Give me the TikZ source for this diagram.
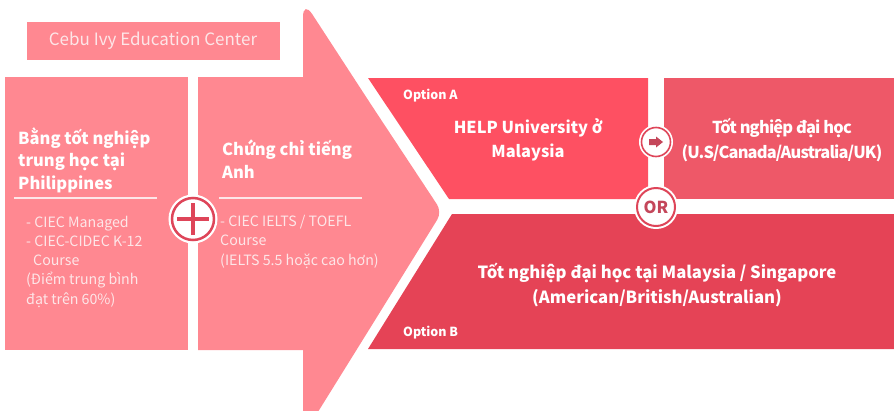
\documentclass[tikz,border=0pt]{standalone}
\usepackage{fontspec}
\setmainfont{Noto Sans CJK KR}
\usetikzlibrary{positioning}

\definecolor{pinklight}{HTML}{FF8891}
\definecolor{optared}{HTML}{FE5062}
\definecolor{gradred}{HTML}{EE5868}
\definecolor{optbred}{HTML}{E54356}
\definecolor{ringred}{HTML}{DE4559}
\definecolor{darkred}{HTML}{C4465A}
\definecolor{softwhite}{HTML}{FDE6E8}

\tikzset{
  headtext/.style={anchor=base west,align=left,text=white,inner sep=0pt,
    font=\fontsize{16.5}{22.5}\selectfont\bfseries},
  bodytext/.style={anchor=base west,align=left,text=softwhite,inner sep=0pt,
    font=\fontsize{14.2}{19.2}\selectfont},
  boxtext/.style={align=center,text=white,inner sep=0pt,
    font=\fontsize{#1}{24.5}\selectfont\bfseries},
  optlabel/.style={anchor=west,text=white,inner sep=0pt,
    font=\fontsize{12.5}{14}\selectfont\bfseries},
  ringnode/.style={circle,draw=ringred,fill=white,inner sep=0pt,
    preaction={draw=white,line width=#1}},
}

\begin{document}
\begin{tikzpicture}[x=1pt,y=-1pt]
\useasboundingbox (0,0) rectangle (894,410);
\fill[pinklight] (27,22) rectangle (280,60);
\node[text=softwhite,font=\fontsize{17}{20}\selectfont] (centername) at (153,41) {Cebu Ivy Education Center};
\fill[pinklight] (5,77) rectangle (188,350);
\fill[pinklight] (198,77) -- (303,77) -- (303,45) {[rounded corners=17] -- (303,0) -- (372,106)}
  {[rounded corners=9] -- (442,212) -- (372,325)} -- (303,436) -- (303,350) -- (198,350) -- cycle;
\fill[optared] (368,78) -- (648,78) -- (648,199) -- (449,199) -- cycle;
\fill[gradred] (664,78) rectangle (894,199);
\fill[optbred] (452,214) -- (894,214) -- (894,349) -- (368,349) -- cycle;
\node[headtext] (hsdegree) at (18,189) {Bằng tốt nghiệp\\trung học tại\\Philippines};
\draw[softwhite,line width=2pt] (14,198) -- (157,198);
\node[bodytext] (hscourses) at (26,304) {- CIEC Managed\\- CIEC-CIDEC K-12\\\hspace*{7pt}Course\\(Điểm trung bình\\đạt trên 60\%)};
\node[headtext] (engcert) at (222,178) {Chứng chỉ tiếng\\Anh};
\draw[softwhite,line width=2pt] (219,198) -- (362,198);
\node[bodytext] (engcourses) at (220,265) {- CIEC IELTS / TOEFL\\Course\\(IELTS 5.5 hoặc cao hơn)};
\node[optlabel] (optiona) at (403,96) {Option A};
\node[optlabel] (optionb) at (403,333) {Option B};
\node[boxtext=16.4] (helpuni) at (528,140) {HELP University ở\\Malaysia};
\node[boxtext=16.4,font=\fontsize{16.4}{24.5}\selectfont\bfseries\addfontfeature{LetterSpace=-5}] (westdeg) at (782,140) {Tốt nghiệp đại học\\(U.S/Canada/Australia/UK)};
\node[boxtext=16.7] (asiadeg) at (657,285) {Tốt nghiệp đại học tại Malaysia / Singapore\\(American/British/Australian)};
\node[ringnode=7pt,line width=2.5pt,minimum size=42] (plusc) at (193,219) {};
\draw[ringred,line width=4pt] ([yshift=-16]plusc.center) -- ([yshift=16]plusc.center);
\draw[ringred,line width=4pt] ([xshift=-16]plusc.center) -- ([xshift=16]plusc.center);
\node[ringnode=5pt,line width=1.6pt,minimum size=29] (nextc) at (656,142) {};
\fill[darkred,shift={(nextc.center)}] (-7,-3) -- (0,-3) -- (0,-5.5) -- (7,0) -- (0,5.5) -- (0,3) -- (-7,3) -- cycle;
\node[ringnode=6pt,line width=2pt,minimum size=38,text=darkred,font=\fontsize{16.5}{18}\selectfont\bfseries] (orc) at (656,207) {OR};
\end{tikzpicture}
\end{document}
